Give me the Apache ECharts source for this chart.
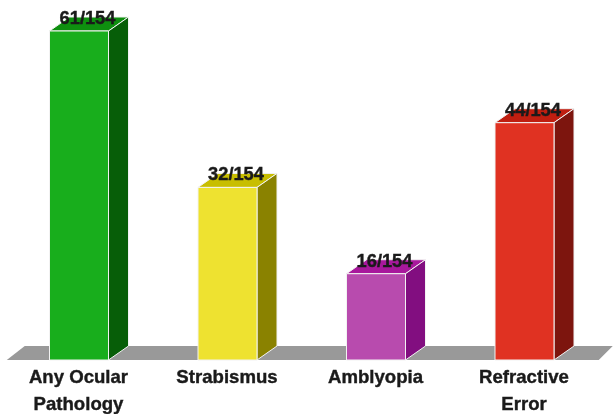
<!DOCTYPE html>
<html>
<head>
<meta charset="utf-8">
<style>html,body{margin:0;padding:0;background:#fff}#chart{width:613px;height:414px}</style>
<script src="https://cdn.jsdelivr.net/npm/echarts@6/dist/echarts.min.js"></script>
</head>
<body>
<div id="chart"></div>
<script>
// Prevalence of ocular findings, out of all children examined
const categories = ['Any Ocular\nPathology', 'Strabismus', 'Amblyopia', 'Refractive\nError'];
const counts = [61, 32, 16, 44];
const total = 154;
const frontColors = ['#18AE1C', '#EEE230', '#B84BAE', '#E03222'];
const sideColors = ['#075E08', '#8A8200', '#820E80', '#7D150E'];
const topColors = ['#0E8F0F', '#C8BE00', '#A8189C', '#BF1E10'];

// Oblique projection used for the box depth
const depthX = 20, depthY = -14;
const barWidth = 59;
const edge = { stroke: '#F2F2F2', lineWidth: 1 };
const valueFont = 'bold 18.3px "Liberation Sans", Arial, sans-serif';
const inkColor = '#1A1A1A';

function poly(points, fill, stroke) {
  return {
    type: 'polygon',
    shape: { points },
    style: stroke ? Object.assign({ fill }, edge) : { fill }
  };
}

function renderBox(params, api) {
  const i = api.value(0);
  const top = api.coord([i, api.value(1)]);
  const base = api.coord([i, 0]);
  const l = top[0] - barWidth / 2, r = top[0] + barWidth / 2;
  return {
    type: 'group',
    children: [
      poly([[l, top[1]], [r, top[1]], [r + depthX, top[1] + depthY], [l + depthX, top[1] + depthY]], topColors[i], true),
      poly([[r, top[1]], [r + depthX, top[1] + depthY], [r + depthX, base[1] + depthY], [r, base[1]]], sideColors[i], true),
      poly([[l, top[1]], [r, top[1]], [r, base[1]], [l, base[1]]], frontColors[i], true),
      {
        type: 'text',
        z2: 10,
        style: {
          text: api.value(1) + '/' + total,
          x: top[0] + 8.5,
          y: top[1] - 12,
          font: valueFont,
          fill: inkColor,
          stroke: inkColor,
          lineWidth: 0.4,
          align: 'center',
          verticalAlign: 'middle'
        }
      }
    ]
  };
}

// Gray floor plane spanning the plot width
function renderFloor(params, api) {
  const c = params.coordSys;
  const y = c.y + c.height;
  return poly([
    [c.x + 2, y],
    [c.x + 2 + 18, y + depthY],
    [c.x + c.width + 14, y + depthY],
    [c.x + c.width, y]
  ], '#999999', false);
}

const chart = echarts.init(document.getElementById('chart'), null, { renderer: 'canvas' });
chart.setOption({
  animation: false,
  backgroundColor: '#fff',
  grid: { left: 4.75, width: 594, top: 31, bottom: 54, outerBoundsMode: 'none' },
  xAxis: {
    type: 'category',
    data: categories,
    axisLine: { show: false },
    axisTick: { show: false },
    axisLabel: {
      interval: 0,
      margin: 4,
      padding: [0, 1, 0, 0],
      fontFamily: '"Liberation Sans", Arial, sans-serif',
      fontWeight: 'bold',
      fontSize: 18.6,
      lineHeight: 27,
      color: inkColor,
      textBorderColor: inkColor,
      textBorderWidth: 0.4,
      hideOverlap: false
    }
  },
  yAxis: { type: 'value', min: 0, max: 61, show: false },
  series: [
    { type: 'custom', coordinateSystem: 'cartesian2d', renderItem: renderFloor, data: [[0, 0]], z: 1, silent: true, clip: false },
    {
      type: 'custom',
      coordinateSystem: 'cartesian2d',
      renderItem: renderBox,
      encode: { x: 0, y: 1 },
      data: counts.map((v, i) => [i, v]),
      z: 2,
      clip: false
    }
  ]
});
</script>
</body>
</html>
